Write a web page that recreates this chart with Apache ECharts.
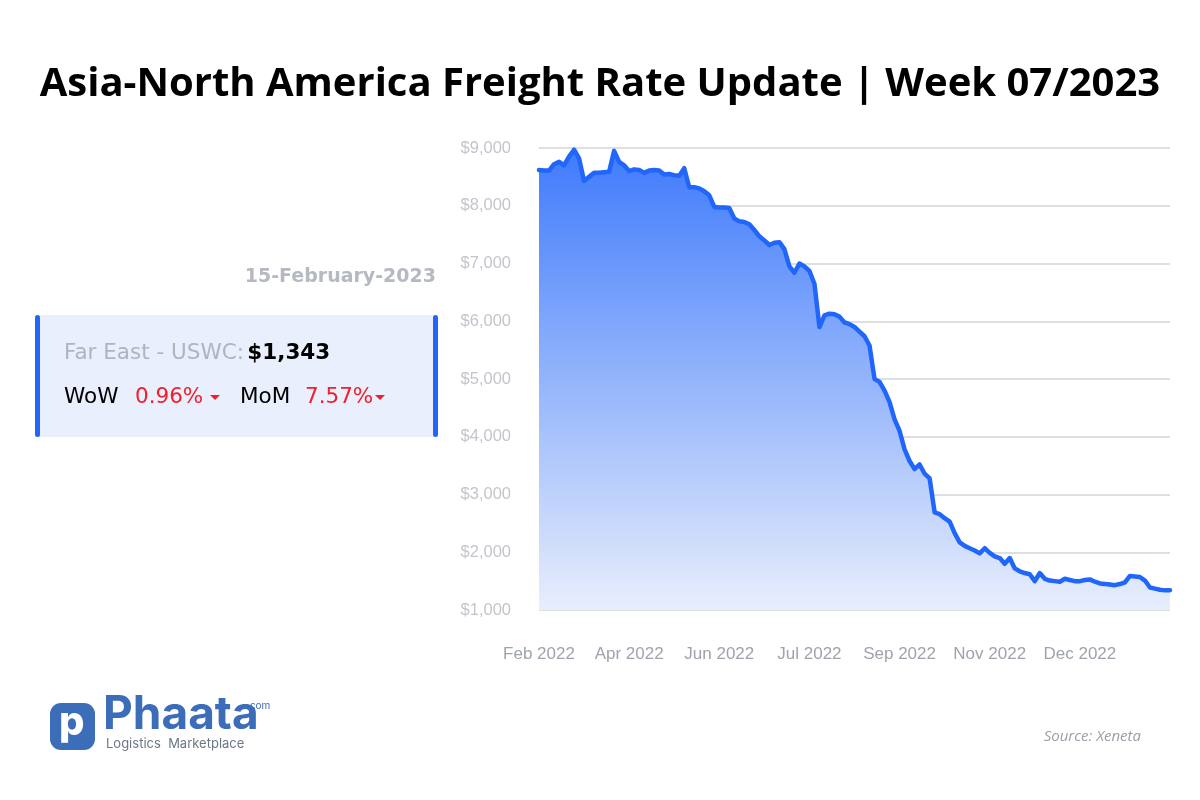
<!DOCTYPE html>
<html>
<head>
<meta charset="utf-8">
<script src="https://cdn.jsdelivr.net/npm/echarts@6/dist/echarts.min.js"></script>
<style>
html,body{margin:0;padding:0;background:#fff;}
#chart{width:1200px;height:800px;}
</style>
</head>
<body>
<div id="chart"></div>
<script>
// ---- Data ----
const tickLabels = ['Feb 2022', 'Apr 2022', 'Jun 2022', 'Jul 2022', 'Sep 2022', 'Nov 2022', 'Dec 2022'];
const rates = [
  8620, 8610, 8610, 8720, 8760, 8700, 8850, 8970, 8820, 8430,
  8500, 8570, 8570, 8580, 8590, 8950, 8760, 8700, 8600, 8630,
  8620, 8570, 8610, 8620, 8610, 8540, 8550, 8530, 8520, 8650,
  8320, 8320, 8300, 8250, 8180, 7980, 7970, 7970, 7960, 7780,
  7730, 7720, 7680, 7580, 7470, 7400, 7320, 7360, 7370, 7250,
  6950, 6840, 7000, 6950, 6870, 6650, 5900, 6100, 6130, 6120,
  6080, 5980, 5950, 5900, 5820, 5740, 5580, 5000, 4950, 4800,
  4600, 4300, 4100, 3780, 3580, 3440, 3520, 3360, 3280, 2690,
  2660, 2590, 2530, 2330, 2170, 2110, 2070, 2030, 1980, 2070,
  1990, 1930, 1900, 1800, 1900, 1720, 1670, 1640, 1620, 1500,
  1640, 1540, 1510, 1500, 1490, 1540, 1520, 1500, 1500, 1520,
  1530, 1490, 1460, 1450, 1440, 1430, 1450, 1480, 1590, 1580,
  1570, 1510, 1390, 1370, 1350, 1340, 1343
];
const labelEvery = 18;
const yMin = 1000, yMax = 9000, yStep = 1000;
const panel = {
  date: '15-February-2023',
  route: 'Far East - USWC:',
  price: '$1,343',
  wowLabel: 'WoW', wow: '0.96%',
  momLabel: 'MoM', mom: '7.57%'
};
const categories = rates.map((_, i) => 'P' + (i + 1));

const chart = echarts.init(document.getElementById('chart'));
const wide = '"DejaVu Sans", Inter, sans-serif';
const logoFont = 'Inter, "Noto Sans", sans-serif';

function tri(x, y) {
  return { type: 'polygon', shape: { points: [[x, y], [x + 10, y], [x + 5, y + 5]] }, style: { fill: '#f0202a' } };
}

const option = {
  backgroundColor: '#ffffff',
  animation: false,
  title: {
    text: 'Asia-North America Freight Rate Update | Week 07/2023',
    left: 'center',
    top: 60,
    textStyle: { fontFamily: '"Open Sans", sans-serif', fontWeight: 700, fontSize: 40, color: '#000000' }
  },
  grid: { left: 539, right: 30, top: 148, bottom: 190, containLabel: false },
  xAxis: {
    type: 'category',
    data: categories,
    boundaryGap: false,
    axisLine: { show: false },
    axisTick: { show: false },
    splitLine: { show: false },
    axisLabel: {
      interval: (idx) => idx % labelEvery === 0 && idx / labelEvery < tickLabels.length,
      formatter: (val, idx) => tickLabels[Math.round(idx / labelEvery)] || '',
      color: '#9ea3ad',
      fontFamily: 'Arial, "Liberation Sans", sans-serif',
      fontSize: 17,
      margin: 36
    }
  },
  yAxis: {
    type: 'value',
    min: yMin, max: yMax, interval: yStep,
    axisLine: { show: false },
    axisTick: { show: false },
    splitLine: { lineStyle: { color: '#dedfe3', width: 2 } },
    axisLabel: {
      formatter: (v) => '$' + v.toLocaleString('en-US'),
      color: '#c3c5cc',
      fontFamily: 'Arial, "Liberation Sans", sans-serif',
      fontSize: 16.5,
      margin: 28
    }
  },
  series: [{
    type: 'line',
    data: rates,
    symbol: 'none',
    smooth: false,
    lineStyle: { color: '#2166fb', width: 4.5, join: 'round', cap: 'round' },
    areaStyle: {
      opacity: 1,
      color: new echarts.graphic.LinearGradient(0, 0, 0, 1, [
        { offset: 0, color: '#3f7bfb' },
        { offset: 1, color: '#e8eefc' }
      ])
    },
    z: 3
  }],
  graphic: [
    { type: 'text', right: 1200 - 436, top: 268,
      style: { text: panel.date, fill: '#b5b9c2', font: '700 19px ' + wide, textAlign: 'right' } },
    { type: 'rect', shape: { x: 36, y: 315, width: 401, height: 122 }, style: { fill: '#e9effc' } },
    { type: 'rect', shape: { x: 35, y: 315, width: 5, height: 122, r: 2.5 }, style: { fill: '#2466f5' } },
    { type: 'rect', shape: { x: 433, y: 315, width: 5, height: 122, r: 2.5 }, style: { fill: '#2466f5' } },
    { type: 'text', left: 64, top: 342,
      style: { rich: {
        a: { fill: '#b0b4bd', font: '400 21.5px ' + wide },
        b: { fill: '#000000', font: '700 21.5px ' + wide }
      }, text: '{a|' + panel.route + '} {b|' + panel.price + '}' } },
    { type: 'text', left: 64, top: 386, style: { text: panel.wowLabel, fill: '#000000', font: '400 21.5px ' + wide } },
    { type: 'text', left: 135, top: 386, style: { text: panel.wow, fill: '#f0202a', font: '400 21.5px ' + wide } },
    tri(210, 395),
    { type: 'text', left: 240, top: 386, style: { text: panel.momLabel, fill: '#000000', font: '400 21.5px ' + wide } },
    { type: 'text', left: 305, top: 386, style: { text: panel.mom, fill: '#f0202a', font: '400 21.5px ' + wide } },
    tri(375, 395),
    // logo
    { type: 'rect', shape: { x: 50, y: 703, width: 45, height: 47, r: 11 }, style: { fill: '#3c6db8' } },
    { type: 'text', left: 59, top: 703, style: { text: 'p', fill: '#ffffff', font: '800 40px ' + logoFont } },
    { type: 'text', left: 103, top: 692, style: { text: 'Phaata', fill: '#3c6db8', font: '700 46px ' + logoFont } },
    { type: 'text', left: 247, top: 701, style: { text: '.com', fill: '#3c6db8', font: '400 10px ' + logoFont } },
    { type: 'text', left: 106, top: 738, style: { text: 'Logistics  Marketplace', fill: '#6c7788', font: '400 13px ' + logoFont, textLetterSpacing: 2 } },
    { type: 'text', right: 1200 - 1141, top: 729,
      style: { text: 'Source: Xeneta', fill: '#9a9ea6', font: 'italic 400 15px "Open Sans", sans-serif', textAlign: 'right' } }
  ]
};
chart.setOption(option);
</script>
</body>
</html>
